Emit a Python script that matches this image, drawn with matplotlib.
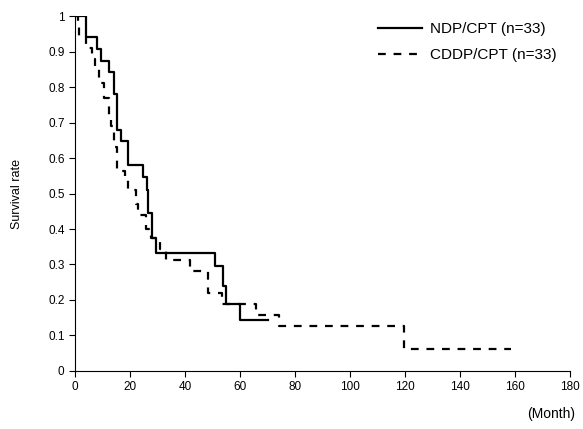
import matplotlib
matplotlib.use('Agg')
import matplotlib.pyplot as plt
from matplotlib.ticker import FormatStrFormatter

plt.rcParams['font.family'] = ['Liberation Sans', 'DejaVu Sans']

# Kaplan-Meier step curves (month, survival)
ndp_month = [0, 4.0, 8.1, 9.3, 12.5, 14.2, 15.2, 16.7, 19.2, 24.8, 26.3, 26.7,
             27.9, 29.3, 50.9, 53.7, 54.8, 60.0, 70.3]
ndp_surv = [1.0, 0.94, 0.906, 0.873, 0.843, 0.78, 0.68, 0.647, 0.579, 0.546,
            0.51, 0.444, 0.375, 0.333, 0.295, 0.24, 0.19, 0.144, 0.144]

cddp_month = [0, 1.0, 1.5, 4.0, 6.0, 7.3, 8.8, 10.5, 12.5, 13.2, 14.0, 15.3,
              18.0, 19.1, 22.0, 22.9, 25.8, 27.5, 31.0, 33.0, 41.7, 48.5, 53.3,
              65.8, 74.0, 119.5, 158.6]
cddp_surv = [1.0, 0.97, 0.94, 0.91, 0.88, 0.85, 0.81, 0.77, 0.72, 0.69, 0.63,
             0.564, 0.54, 0.51, 0.47, 0.44, 0.40, 0.374, 0.343, 0.313, 0.283,
             0.219, 0.19, 0.158, 0.127, 0.063, 0.063]

labels = ['NDP/CPT (n=33)', 'CDDP/CPT (n=33)']
x_ticks = list(range(0, 181, 20))
y_ticks = [0, 0.1, 0.2, 0.3, 0.4, 0.5, 0.6, 0.7, 0.8, 0.9, 1]

fig = plt.figure(figsize=(5.83, 4.29), dpi=100)
ax = fig.add_axes([0.1287, 0.1352, 0.849, 0.8275])

ax.step(ndp_month, ndp_surv, where='post', color='black', lw=1.6,
        label=labels[0])
ax.step(cddp_month, cddp_surv, where='post', color='black', lw=1.6,
        linestyle=(0, (3.5, 3.5)), label=labels[1])

ax.set_xlim(0, 180)
ax.set_ylim(0, 1)
ax.set_xticks(x_ticks)
ax.set_yticks(y_ticks)
ax.yaxis.set_major_formatter(FormatStrFormatter('%g'))
ax.spines['top'].set_visible(False)
ax.spines['right'].set_visible(False)
ax.tick_params(direction='out', length=4, labelsize=8.5)
ax.set_ylabel('Survival rate', fontsize=9, labelpad=18)

ax.text(1.01, -0.12, '(Month)', transform=ax.transAxes, ha='right',
        va='center', fontsize=10)

ax.legend(loc='upper left', bbox_to_anchor=(0.60, 1.0), borderaxespad=0,
          frameon=False, fontsize=11, handlelength=2.9, handletextpad=0.5,
          labelspacing=0.8)

fig.savefig('out.png', dpi=100)
